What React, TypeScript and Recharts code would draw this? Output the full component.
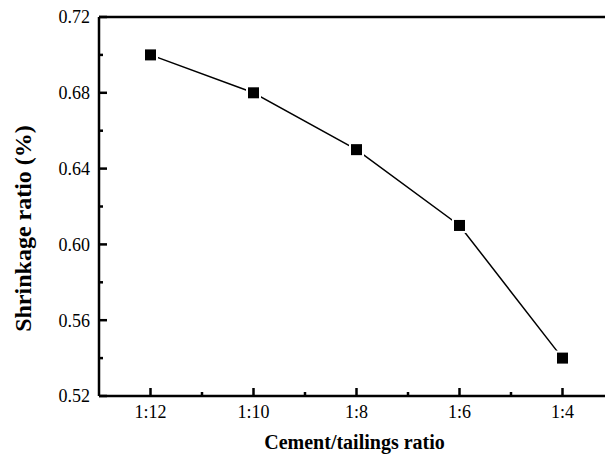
import { Line, LineChart, ReferenceLine, XAxis, YAxis } from "recharts";

const ratios = ["1:12", "1:10", "1:8", "1:6", "1:4"];
const shrinkage = [0.7, 0.68, 0.65, 0.61, 0.54];
const yMajorTicks = [0.52, 0.56, 0.6, 0.64, 0.68, 0.72];
const yMinorTicks = [0.54, 0.58, 0.62, 0.66, 0.7];

const data = ratios.map((ratio, i) => ({ idx: i, ratio, shrinkage: shrinkage[i] }));

// category positions plus half steps for the minor ticks
const xTicks = [0, 0.5, 1, 1.5, 2, 2.5, 3, 3.5, 4];
const yTicks = [...yMajorTicks, ...yMinorTicks].sort((a, b) => a - b);

const FONT = "'Liberation Serif', 'Times New Roman', serif";

const isMajorY = (v: number) => yMajorTicks.some((t) => Math.abs(t - v) < 1e-6);

function XTick(props: any) {
  const { x, y, payload } = props;
  const major = Number.isInteger(payload.value);
  return (
    <g>
      <line x1={x} x2={x} y1={y} y2={y - (major ? 8 : 4)} stroke="#000" strokeWidth={2.5} />
      {major && (
        <text x={x} y={y + 22} textAnchor="middle" fontFamily={FONT} fontSize={18} fill="#000">
          {ratios[payload.value]}
        </text>
      )}
    </g>
  );
}

function YTick(props: any) {
  const { x, y, payload } = props;
  const major = isMajorY(payload.value);
  return (
    <g>
      <line x1={x} x2={x + (major ? 8 : 4)} y1={y} y2={y} stroke="#000" strokeWidth={2.5} />
      {major && (
        <text x={x - 9} y={y} dy="0.35em" textAnchor="end" fontFamily={FONT} fontSize={18} fill="#000">
          {payload.value.toFixed(2)}
        </text>
      )}
    </g>
  );
}

function SquareDot(props: any) {
  const { cx, cy } = props;
  if (cx == null || cy == null) return null;
  return (
    <g>
      <rect x={cx - 7.5} y={cy - 7.5} width={15} height={15} fill="#fff" />
      <rect x={cx - 5.5} y={cy - 5.5} width={11} height={11} fill="#000" />
    </g>
  );
}

export default function App() {
  return (
    <div style={{ position: "absolute", left: 0, top: 0, width: 605, height: 457, overflow: "hidden", background: "#fff" }}>
      <LineChart width={620} height={457} data={data} margin={{ top: 17, right: 6, left: 0, bottom: 0 }}>
        <XAxis
          dataKey="idx"
          type="number"
          domain={[-0.5, 4.5]}
          ticks={xTicks}
          interval={0}
          allowDataOverflow
          height={61}
          tickSize={0}
          tickMargin={0}
          tickLine={false}
          axisLine={{ stroke: "#000", strokeWidth: 2.5 }}
          tick={<XTick />}
          label={{
            content: ({ viewBox }: any) => (
              <text
                x={viewBox.x + viewBox.width / 2 - 2}
                y={viewBox.y + 53}
                textAnchor="middle"
                fontFamily={FONT}
                fontWeight="bold"
                fontSize={20}
                fill="#000"
              >
                Cement/tailings ratio
              </text>
            ),
          }}
        />
        <YAxis
          type="number"
          domain={[0.52, 0.72]}
          ticks={yTicks}
          interval={0}
          allowDataOverflow
          width={99}
          tickSize={0}
          tickMargin={0}
          tickLine={false}
          axisLine={{ stroke: "#000", strokeWidth: 2.5 }}
          tick={<YTick />}
          label={{
            content: ({ viewBox }: any) => {
              const cx = viewBox.x + 31;
              const cy = viewBox.y + viewBox.height / 2 + 22;
              return (
                <text
                  x={cx}
                  y={cy}
                  transform={`rotate(-90 ${cx} ${cy})`}
                  textAnchor="middle"
                  fontFamily={FONT}
                  fontWeight="bold"
                  fontSize={24}
                  fill="#000"
                >
                  Shrinkage ratio (%)
                </text>
              );
            },
          }}
        />
        <ReferenceLine y={0.72} stroke="#000" strokeWidth={2.5} />
        <ReferenceLine x={4.5} stroke="#000" strokeWidth={2.5} />
        <Line
          type="linear"
          dataKey="shrinkage"
          stroke="#000"
          strokeWidth={1.5}
          dot={<SquareDot />}
          activeDot={false}
          isAnimationActive={false}
        />
      </LineChart>
    </div>
  );
}
